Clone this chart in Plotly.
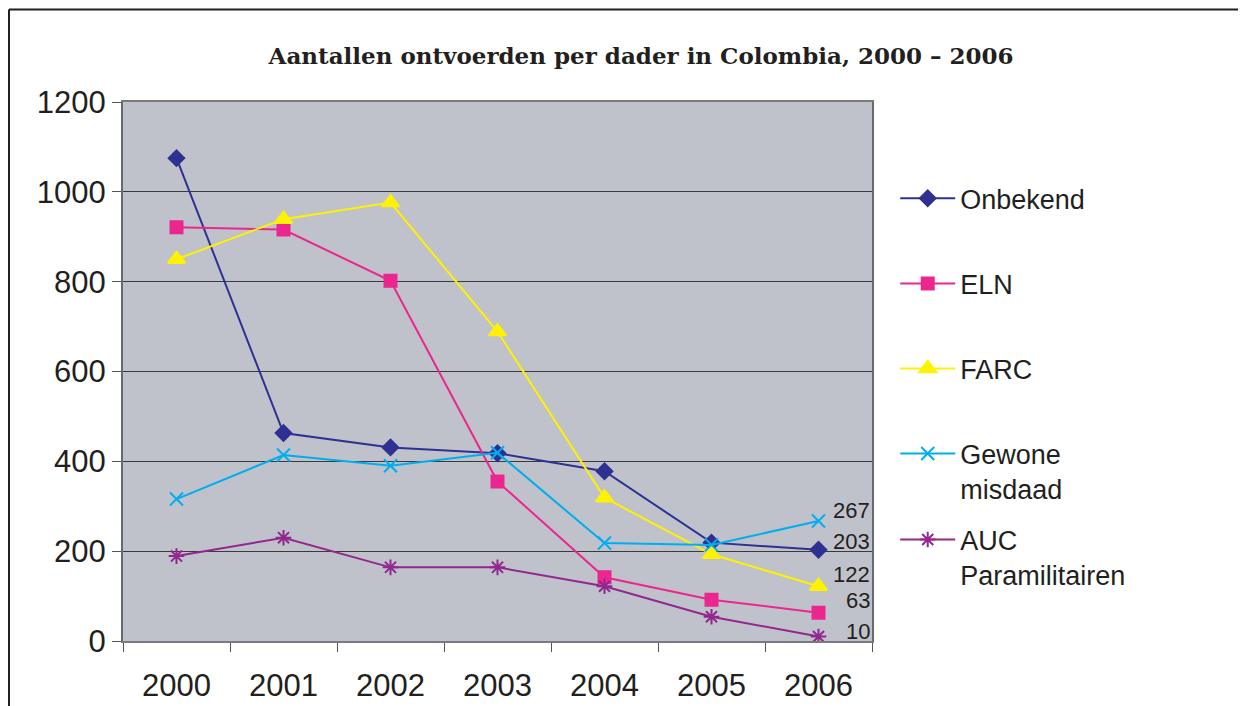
import plotly.graph_objects as go

years = ["2000", "2001", "2002", "2003", "2004", "2005", "2006"]
onbekend = [1075, 463, 431, 418, 378, 219, 203]
eln = [921, 916, 802, 355, 142, 92, 63]
farc = [850, 939, 976, 689, 319, 193, 122]
gewone = [316, 414, 390, 419, 218, 214, 267]
auc = [189, 230, 164, 164, 122, 54, 10]

series_names = ["Onbekend", "ELN", "FARC", "Gewone<br>misdaad", "AUC<br>Paramilitairen"]
series_values = [onbekend, eln, farc, gewone, auc]
colors = ["#2E3192", "#EC268F", "#FFF200", "#00AEEF", "#92278F"]
symbols = ["diamond", "square", "triangle-up", "x-thin-open", "asterisk-open"]
sizes = [12, 12, 15, 13, 13]
legends = ["legend", "legend", "legend", "legend", "legend2"]
label_yshift = [8, 12, 12, 11, 5]

last_idx = len(years) - 1

fig = go.Figure()
for name, vals, col, sym, sz, lg, ys in zip(series_names, series_values, colors, symbols, sizes, legends, label_yshift):
    fig.add_trace(go.Scatter(
        x=years, y=vals, name=name, mode="lines+markers",
        legendgroup=name, legend=lg,
        line=dict(color=col, width=2),
        marker=dict(symbol=sym, size=sz, color=col, line=dict(color=col, width=2)),
    ))
    fig.add_annotation(
        x=last_idx, y=vals[last_idx], text=str(vals[last_idx]), showarrow=False,
        xanchor="right", yanchor="middle", xshift=52, yshift=ys,
        font=dict(family="Liberation Sans, Arial", size=22, color="#231F20"),
        borderpad=0,
    )

# outer frame
fig.add_shape(type="line", xref="paper", yref="paper", x0=-0.1522, x1=-0.1522, y0=-0.3, y1=1.1716,
              line=dict(color="#231F20", width=2))
fig.add_shape(type="line", xref="paper", yref="paper", x0=-0.1522, x1=1.6, y0=1.1716, y1=1.1716,
              line=dict(color="#231F20", width=2))

legend_font = dict(family="Liberation Sans, Arial", size=27, color="#231F20")

fig.update_layout(
    width=1238, height=698,
    margin=dict(l=115, r=374, t=94, b=65, autoexpand=False),
    paper_bgcolor="white",
    plot_bgcolor="#BFC2CA",
    title=dict(
        text="<b>Aantallen ontvoerden per dader in Colombia, 2000 – 2006</b>",
        x=633 / 1238, xanchor="center", y=1 - 48 / 698, yanchor="middle",
        font=dict(family="DejaVu Serif", size=23, color="#231F20"),
    ),
    legend=dict(
        x=1.031, xanchor="left", y=0.866, yanchor="top",
        font=legend_font,
        tracegroupgap=47, valign="top", itemwidth=55,
        bgcolor="rgba(0,0,0,0)",
    ),
    legend2=dict(
        x=1.031, xanchor="left", y=0.233, yanchor="top",
        font=legend_font,
        valign="top", itemwidth=55,
        bgcolor="rgba(0,0,0,0)",
    ),
    showlegend=True,
)
fig.update_xaxes(
    type="category", range=[-0.5, 6.5], automargin=False,
    showgrid=False, showline=True, linecolor="#777A80", linewidth=2, mirror=True,
    ticks="outside", tickson="boundaries", ticklen=9, tickcolor="#555555", tickwidth=1,
    tickfont=dict(family="Liberation Sans, Arial", size=31, color="#231F20"),
    ticklabelstandoff=16,
)
fig.update_yaxes(
    range=[0, 1200], dtick=200, tick0=0, automargin=False,
    showgrid=True, gridcolor="#3A3A3A", gridwidth=1,
    showline=True, linecolor="#666A70", linewidth=2, mirror=True,
    ticks="outside", ticklen=9, tickcolor="#555555", tickwidth=1,
    tickfont=dict(family="Liberation Sans, Arial", size=31, color="#231F20"),
    ticklabelstandoff=0, zeroline=False,
)

fig.write_html("out.html")
